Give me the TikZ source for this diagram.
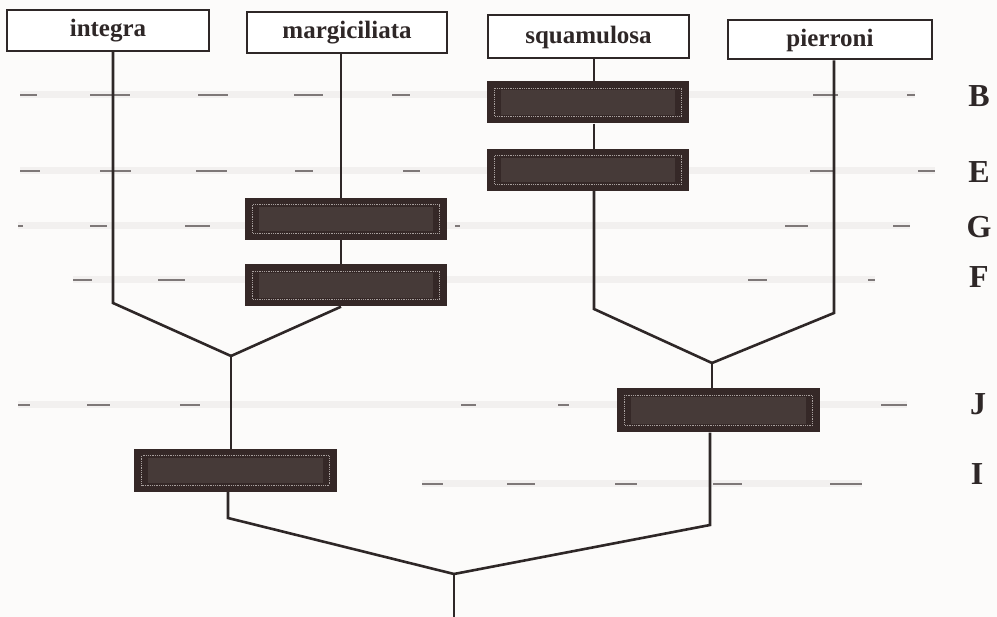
\documentclass[tikz,border=0pt]{standalone}
\usepackage{fontspec}
\setmainfont{Liberation Serif}
\definecolor{ink}{HTML}{2E2727}
\definecolor{barfill}{HTML}{352827}
\definecolor{barmid}{HTML}{463A38}
\definecolor{bardot}{HTML}{A8A09E}
\definecolor{guide}{HTML}{7E7878}
\definecolor{band}{HTML}{F2F0EF}
\definecolor{paper}{HTML}{FCFBFA}
\begin{document}
\begin{tikzpicture}[x=1pt,y=-1pt,
  taxon/.style={draw=ink, line width=2pt, fill=white, minimum width=202, minimum height=41, inner sep=0pt, font=\fontsize{25}{30}\selectfont\bfseries, text=ink},
  bar/.style={fill=barfill, minimum width=202, minimum height=42, inner sep=0pt},
  branch/.style={draw=ink, line width=2.6pt, line join=miter},
  charlbl/.style={font=\fontsize{32}{36}\selectfont\bfseries, text=ink, inner sep=0pt},
  guideband/.style={draw=band, line width=7pt},
  guidedash/.style={draw=guide, line width=1.6pt}
]
\useasboundingbox[fill=paper] (0,0) rectangle (997,617);

% faint row guides
\foreach \y/\xa/\xb in {95/20/915, 171/20/935, 226/18/910, 280/73/875, 405/18/907, 484/422/862}
  \draw[guideband] (\xa,\y) -- (\xb,\y);
\foreach \y/\segs in {
  95/{20/37,90/130,198/228,294/323,392/410,813/838,907/915},
  171/{20/40,100/131,196/227,295/313,403/420,810/835,918/935},
  226/{18/23,90/107,185/210,455/460,785/808,893/910},
  280/{73/92,158/185,748/767,868/875},
  405/{18/30,87/110,180/200,461/476,558/569,881/907},
  484/{422/443,507/535,615/637,713/742,830/862}}
  \foreach \xa/\xb in \segs
    \draw[guidedash] (\xa,\y) -- (\xb,\y);

% taxa
\node[taxon] (integra) at (108,30.5) {integra};
\node[taxon, minimum width=200] (margiciliata) at (347,33) {margiciliata};
\node[taxon, minimum width=201, minimum height=43] (squamulosa) at (588.5,37) {squamulosa};
\node[taxon, minimum width=204, minimum height=39] (pierroni) at (830,40) {pierroni};

% character bars
\node[bar] (bB) at (588,102.5) {};
\node[bar] (bE) at (588,170) {};
\node[bar] (bG) at (346,219) {};
\node[bar] (bF) at (346,285.5) {};
\node[bar, minimum width=203, minimum height=44] (bJ) at (718.5,410.5) {};
\node[bar, minimum width=203, minimum height=43] (bI) at (235.5,470.5) {};
\foreach \b in {bB,bE,bG,bF,bJ,bI} {
  \fill[barmid] ([shift={(14,9)}]\b.north west) rectangle ([shift={(-14,-9)}]\b.south east);
  \draw[bardot, densely dotted, line width=0.8pt] ([shift={(8,7)}]\b.north west) rectangle ([shift={(-8,-7)}]\b.south east);
}

% character labels
\node[charlbl] (lB) at (979,96) {B};
\node[charlbl] (lE) at (979,172) {E};
\node[charlbl] (lG) at (979,227) {G};
\node[charlbl] (lF) at (979,277) {F};
\node[charlbl] (lJ) at (978,404) {J};
\node[charlbl] (lI) at (977,474) {I};

% branch points
\coordinate (xM) at (341,0);
\coordinate (xS) at (594,0);
\coordinate (kI) at (113,303);
\coordinate (jL) at (231,356);
\coordinate (kS) at (594,309);
\coordinate (kP) at (834,313);
\coordinate (jR) at (712,363);
\coordinate (kL) at (228,518);
\coordinate (kR) at (710,525);
\coordinate (root) at (454,574);
\coordinate (rootend) at (454,617);

% left clade
\draw[branch] (integra.south -| kI) -- (kI) -- (jL);
\draw[branch] (margiciliata.south -| xM) -- (bG.north -| xM);
\draw[branch] (bG.south -| xM) -- (bF.north -| xM);
\draw[branch] (bF.south -| xM) -- (jL);
\draw[branch] (jL) -- (bI.north -| jL);
\draw[branch] (bI.south -| kL) -- (kL) -- (root);

% right clade
\draw[branch] (squamulosa.south -| xS) -- (bB.north -| xS);
\draw[branch] (bB.south -| xS) -- (bE.north -| xS);
\draw[branch] (bE.south -| xS) -- (kS) -- (jR);
\draw[branch] (pierroni.south -| kP) -- (kP) -- (jR);
\draw[branch] (jR) -- (bJ.north -| jR);
\draw[branch] (bJ.south -| kR) -- (kR) -- (root);

% root
\draw[branch] (root) -- (rootend);
\end{tikzpicture}
\end{document}
